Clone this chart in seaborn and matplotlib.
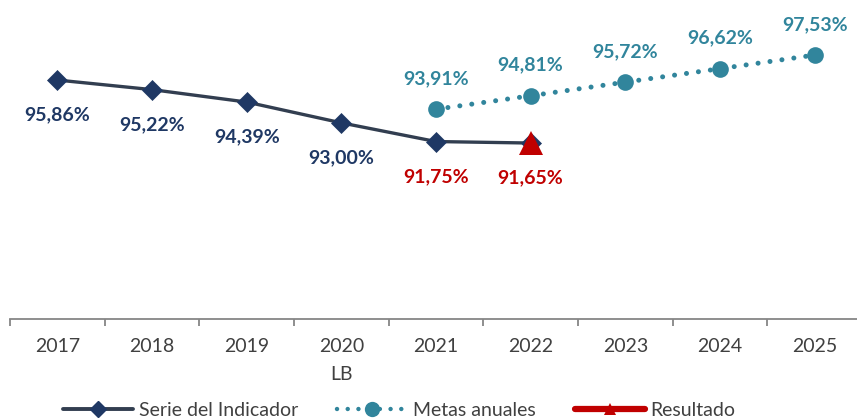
import matplotlib
matplotlib.use("Agg")
import matplotlib.pyplot as plt
import seaborn as sns
import pandas as pd
from matplotlib.lines import Line2D

# ---- data ----
years = ["2017", "2018", "2019", "2020", "2021", "2022", "2023", "2024", "2025"]
tick_labels = ["2017", "2018", "2019", "2020\nLB", "2021", "2022", "2023", "2024", "2025"]
serie_years = ["2017", "2018", "2019", "2020", "2021", "2022"]
serie_values = [95.86, 95.22, 94.39, 93.00, 91.75, 91.65]
metas_years = ["2021", "2022", "2023", "2024", "2025"]
metas_values = [93.91, 94.81, 95.72, 96.62, 97.53]
resultado_years = ["2022"]
resultado_values = [91.65]
red_label_years = ["2021", "2022"]
legend_labels = ["Serie del Indicador", "Metas anuales", "Resultado"]

sns.set_style("white")
plt.rcParams["font.family"] = ["Lato", "DejaVu Sans"]

NAVY = "#1F3864"
LINE = "#323E50"
TEAL = "#31859C"
RED = "#C00000"
GRAY = "#404040"

pos = {y: i for i, y in enumerate(years)}
df_serie = pd.DataFrame({"pos": [pos[y] for y in serie_years], "value": serie_values, "year": serie_years})
df_metas = pd.DataFrame({"pos": [pos[y] for y in metas_years], "value": metas_values, "year": metas_years})
df_res = pd.DataFrame({"pos": [pos[y] for y in resultado_years], "value": resultado_values})

fig = plt.figure(figsize=(8.57, 4.19), dpi=100)
ax = fig.add_axes([10 / 857, 100 / 419, 847 / 857, 319 / 419])

sns.lineplot(data=df_serie, x="pos", y="value", ax=ax, color=LINE, linewidth=2.4,
             marker="D", markersize=10.5, markerfacecolor=NAVY, markeredgecolor=NAVY,
             markeredgewidth=0.5, zorder=3)
sns.lineplot(data=df_metas, x="pos", y="value", ax=ax, color=TEAL, linewidth=3.6,
             linestyle=(0, (0.01, 2.4)), dash_capstyle="round",
             marker="o", markersize=12, markeredgewidth=0, zorder=2)
sns.lineplot(data=df_res, x="pos", y="value", ax=ax, color=RED, linewidth=0,
             marker="^", markersize=17, markeredgewidth=0, zorder=4)

def fmt(v):
    return f"{v:.2f}%".replace(".", ",")

for _, r in df_serie.iterrows():
    c = RED if r["year"] in red_label_years else NAVY
    ax.annotate(fmt(r["value"]), (r["pos"], r["value"]), xytext=(0, -25),
                textcoords="offset points", ha="center", va="center",
                fontsize=14, fontweight="bold", color=c)
for _, r in df_metas.iterrows():
    ax.annotate(fmt(r["value"]), (r["pos"], r["value"]), xytext=(0, 22),
                textcoords="offset points", ha="center", va="center",
                fontsize=14, fontweight="bold", color=TEAL)

ax.set_xlim(-0.5, 8.448)
ax.set_ylim(79.89, 101.21)
ax.set_xlabel("")
ax.set_ylabel("")
ax.set_yticks([])
ax.set_xticks(range(len(years)))
ax.set_xticklabels(tick_labels, fontsize=14, color=GRAY)
for lbl in ax.get_xticklabels():
    lbl.set_linespacing(1.75)
ax.set_xticks([i - 0.5 for i in range(len(years))], minor=True)
ax.tick_params(axis="x", which="major", bottom=False, length=0, pad=14)
ax.tick_params(axis="x", which="minor", bottom=True, length=5, width=1.3,
               color="#868686", direction="out")
for s in ["left", "right", "top"]:
    ax.spines[s].set_visible(False)
ax.spines["bottom"].set_color("#868686")
ax.spines["bottom"].set_linewidth(1.3)

handles = [
    Line2D([], [], color=LINE, linewidth=2.8, marker="D", markersize=8,
           markerfacecolor=NAVY, markeredgecolor=NAVY),
    Line2D([], [], color=TEAL, linewidth=3.2, linestyle=(0, (0.01, 2.4)),
           dash_capstyle="round", marker="o", markersize=11, markeredgewidth=0),
    Line2D([], [], color=RED, linewidth=4.5, solid_capstyle="round", marker="^",
           markersize=9, markeredgewidth=0),
]
fig.legend(handles, legend_labels, loc="center", bbox_to_anchor=(0.466, 0.02),
           ncol=3, frameon=False, fontsize=14, labelcolor=GRAY,
           handlelength=3.6, handletextpad=0.3, columnspacing=2.0, borderaxespad=0)

fig.savefig("out.png", dpi=100)
